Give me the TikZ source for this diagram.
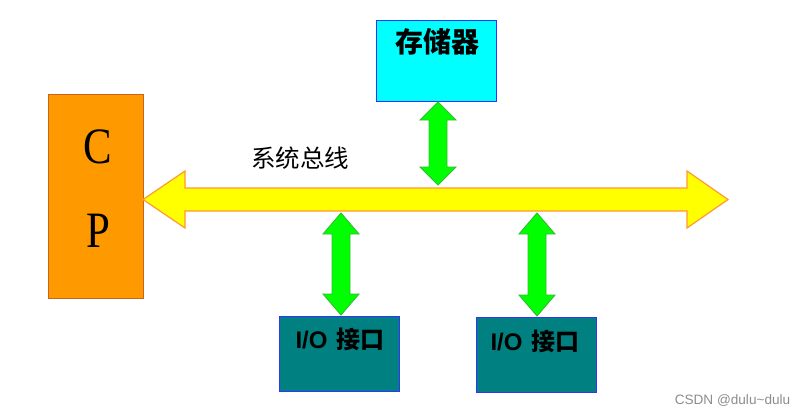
\documentclass[tikz,border=0pt]{standalone}
\usepackage{fontspec}
\setmainfont{Liberation Serif}
\newfontfamily\cjk{Noto Sans CJK SC}
\newfontfamily\arial{Liberation Sans}
\definecolor{cpufill}{HTML}{FF9900}
\definecolor{cpuline}{HTML}{C8641E}
\definecolor{busfill}{HTML}{FFFF00}
\definecolor{busline}{HTML}{FF9933}
\definecolor{grnfill}{HTML}{00FF00}
\definecolor{grnline}{HTML}{33BB33}
\definecolor{memfill}{HTML}{00FFFF}
\definecolor{boxline}{HTML}{3333FF}
\definecolor{iofill}{HTML}{008080}
\newcommand{\vdarrow}[4]{% x, top, bottom, head length
  \draw[greenarr] (#1,#2) -- (#1+18,#2+#4) -- (#1+9,#2+#4) -- (#1+9,#3-#4) -- (#1+18,#3-#4)
    -- (#1,#3) -- (#1-18,#3-#4) -- (#1-9,#3-#4) -- (#1-9,#2+#4) -- (#1-18,#2+#4) -- cycle;}
\begin{document}
\begin{tikzpicture}[x=1pt,y=-1pt,
  cpubox/.style={draw=cpuline,fill=cpufill,line width=1pt,minimum width=95pt,minimum height=204pt,inner sep=0pt},
  membox/.style={draw=boxline,fill=memfill,line width=1pt,minimum width=120pt,minimum height=81pt,inner sep=0pt},
  iobox/.style={draw=boxline,fill=iofill,line width=1pt,minimum width=120pt,minimum height=75pt,inner sep=0pt},
  busarr/.style={draw=busline,fill=busfill,line width=1.2pt,line join=miter},
  greenarr/.style={draw=grnline,fill=grnfill,line width=0.9pt,line join=miter},
  bigletter/.style={font=\fontsize{51}{55}\selectfont,xscale=0.84,inner sep=0pt},
  cjkbold/.style={font=\cjk\bfseries\fontsize{28}{32}\selectfont,inner sep=0pt},
  iolabel/.style={inner sep=0pt}
]
\useasboundingbox (0,0) rectangle (808,416);
% boxes
\node[cpubox] (cpu) at (96,196.5) {};
\node[membox] (mem) at (436,60.5) {};
\node[iobox] (io1) at (339.5,353.5) {};
\node[iobox] (io2) at (536,354.5) {};
% labels
\node[bigletter] (c) at (98,147) {C};
\node[bigletter] (p) at (98,231) {P};
\node[cjkbold] (memt) at (437,42) {存储器};
\node[iolabel] (io1t) at (340,339) {\arial\bfseries\fontsize{24}{28}\selectfont I/O\hspace{9pt}\cjk\bfseries 接口};
\node[iolabel] (io2t) at (535,341) {\arial\bfseries\fontsize{24}{28}\selectfont I/O\hspace{9pt}\cjk\bfseries 接口};
\node[inner sep=0pt] (bust) at (300,158) {\cjk\fontsize{24.5}{28}\selectfont 系统总线};
% bus
\coordinate (busL) at (143,199.5);
\coordinate (busR) at (728,199.5);
\draw[busarr] (busL) -- (185,171) -- (185,188) -- (687,188) -- (687,171) -- (busR)
  -- (687,228) -- (687,211) -- (185,211) -- (185,228) -- cycle;
% green arrows
\vdarrow{438}{102}{185}{18}
\vdarrow{341}{213}{315}{21}
\vdarrow{537}{213}{316}{21}
% watermark
\node[inner sep=0pt,text=black!45] (wm) at (732.5,401) {\arial\fontsize{13.6}{15}\selectfont CSDN @dulu\textasciitilde dulu};
\end{tikzpicture}
\end{document}
